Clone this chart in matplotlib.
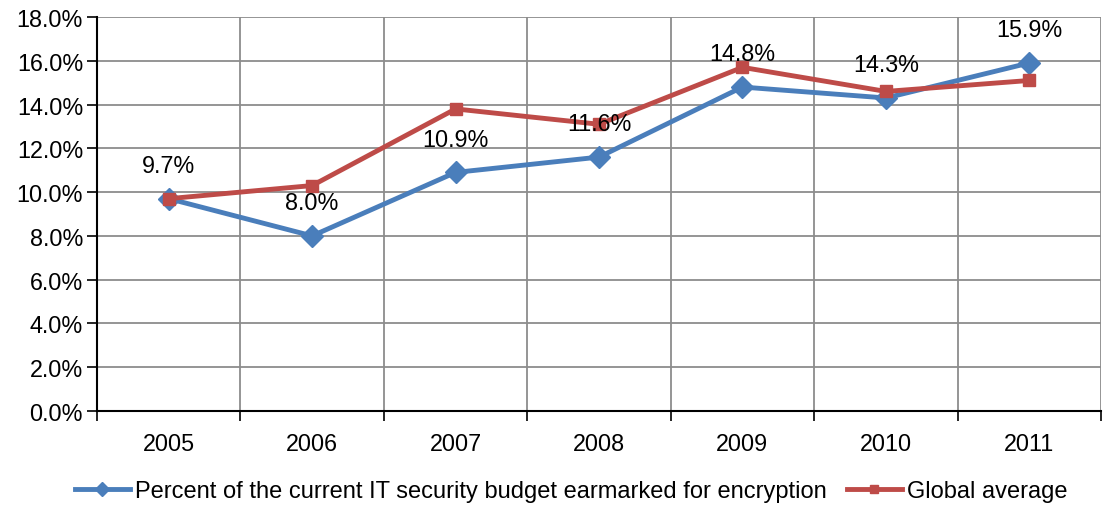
import matplotlib
matplotlib.use("Agg")
import matplotlib.pyplot as plt
from matplotlib.ticker import FuncFormatter, FixedLocator

years = ["2005", "2006", "2007", "2008", "2009", "2010", "2011"]
encryption_share = [9.7, 8.0, 10.9, 11.6, 14.8, 14.3, 15.9]
global_average = [9.7, 10.3, 13.8, 13.1, 15.7, 14.6, 15.1]
series_names = ["Percent of the current IT security budget earmarked for encryption",
                "Global average"]

plt.rcParams["font.family"] = ["Liberation Sans", "DejaVu Sans"]

BLUE = "#4A7EBB"
RED = "#BE4B48"
GRID = "#8C8C8C"
FS = 16.8

fig = plt.figure(figsize=(11.05, 5.06), dpi=100)
W, H = 1105, 506
ax = fig.add_axes([97 / W, 1 - 412 / H, (1101 - 97) / W, (412 - 18) / H])

x = list(range(len(years)))
vals_a = [v / 100 for v in encryption_share]
vals_b = [v / 100 for v in global_average]

ax.plot(x, vals_a, color=BLUE, lw=3.5, marker="D", ms=11, mec=BLUE, mfc=BLUE,
        label=series_names[0], zorder=3)
ax.plot(x, vals_b, color=RED, lw=3.5, marker="s", ms=9, mec=RED, mfc=RED,
        label=series_names[1], zorder=4)

for xi, v, lab in zip(x, vals_a, encryption_share):
    ax.annotate(f"{lab:.1f}%", (xi, v), xytext=(0, 24), textcoords="offset points",
                ha="center", va="center", fontsize=FS, color="black", zorder=5)

ax.set_xlim(-0.5, len(years) - 0.5)
ax.set_ylim(0, 0.18)
ax.yaxis.set_major_locator(FixedLocator([i * 0.02 for i in range(10)]))
ax.yaxis.set_major_formatter(FuncFormatter(lambda v, p: f"{v * 100:.1f}%"))

# categories centered between boundary ticks
ax.set_xticks(x)
ax.set_xticklabels(years)
ax.set_xticks([i + 0.5 for i in range(-1, len(years))], minor=True)
ax.tick_params(axis="x", which="major", length=0, pad=15, labelsize=FS)
ax.tick_params(axis="x", which="minor", length=7, width=1.2, color="black", direction="out")
ax.tick_params(axis="y", which="major", length=7, width=1.2, color="black", pad=3, labelsize=FS)

ax.grid(True, axis="y", which="major", color=GRID, lw=1.3)
ax.grid(True, axis="x", which="minor", color=GRID, lw=1.3)
ax.set_axisbelow(True)

for side in ("top", "right"):
    ax.spines[side].set_visible(False)
for side in ("left", "bottom"):
    ax.spines[side].set_color("black")
    ax.spines[side].set_linewidth(1.5)

fig.legend(loc="center", bbox_to_anchor=(571 / W, 1 - 492 / H), ncol=2, frameon=False,
           fontsize=17, handlelength=2.35, handletextpad=0.2, columnspacing=0.85,
           markerscale=0.65)

fig.savefig("out.png", dpi=100)
